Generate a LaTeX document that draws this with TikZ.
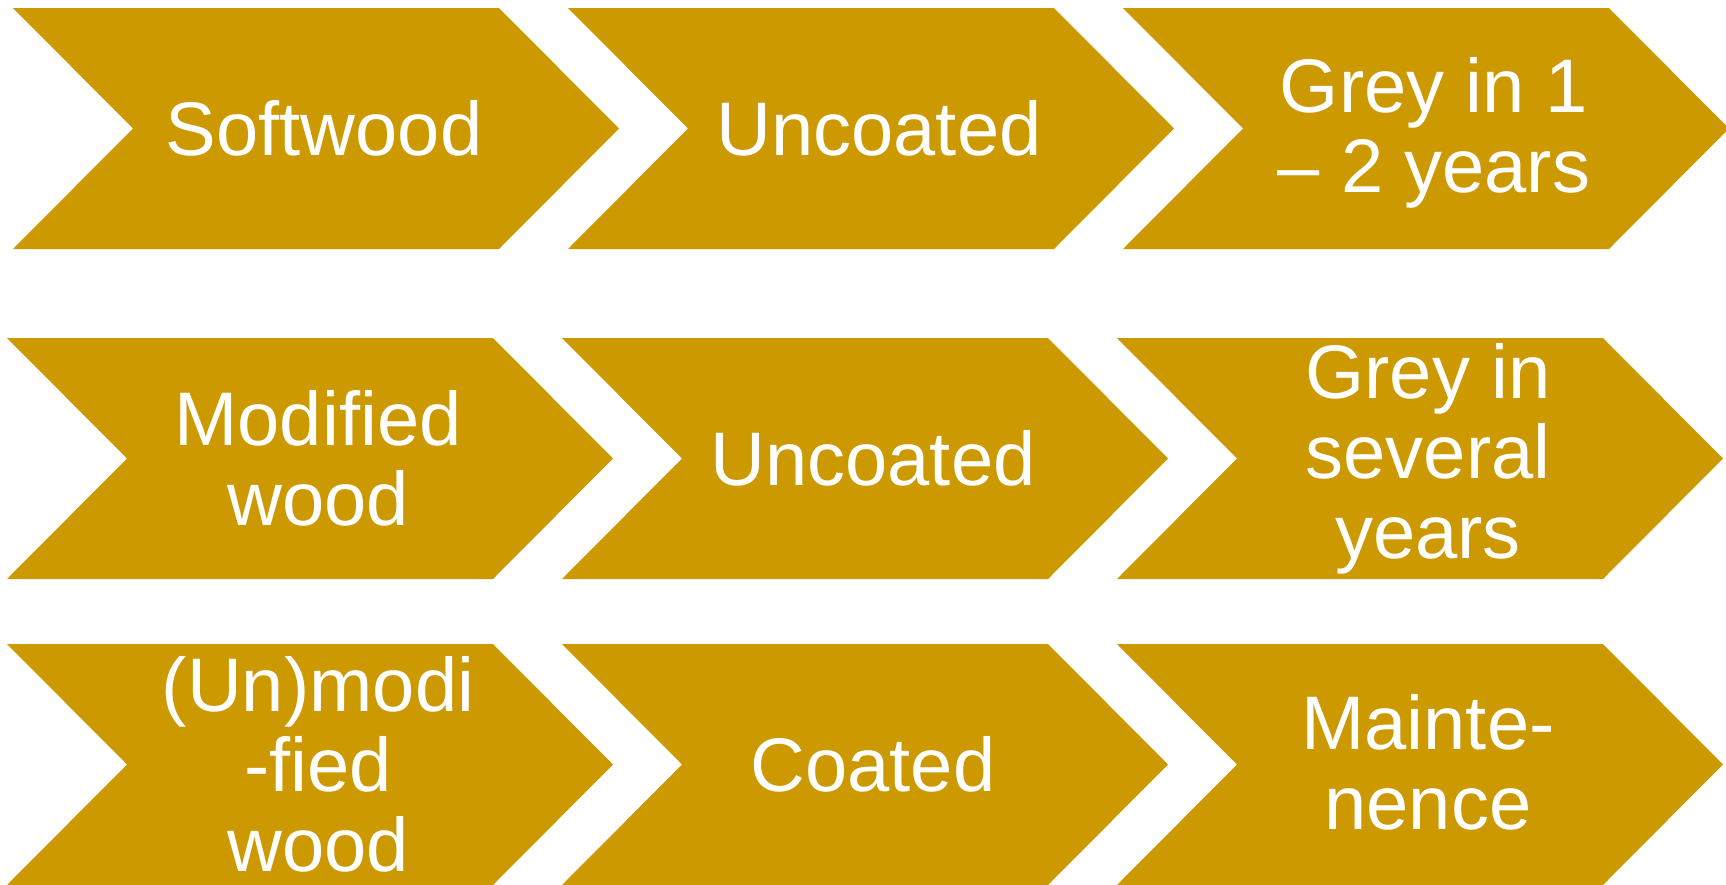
\documentclass[tikz,border=0pt]{standalone}
\usepackage{fontspec}
\setmainfont{Liberation Sans}
\definecolor{woodgold}{HTML}{CC9900}
\tikzset{
  chevron/.style={fill=woodgold},
  chevtext/.style={text=white,align=center,inner sep=0pt,
    font=\fontsize{21.6pt}{22.8pt}\selectfont}
}
\begin{document}
\begin{tikzpicture}[x=0.01cm,y=-0.01cm]
\useasboundingbox (0,0) rectangle (1726,884);
% first row
\fill[chevron] (13,8)--(499,8)--(619,128.5)--(499,249)--(13,249)--(133,128.5)--cycle;
\fill[chevron] (568,8)--(1054,8)--(1174,128.5)--(1054,249)--(568,249)--(688,128.5)--cycle;
\fill[chevron] (1123,8)--(1609,8)--(1729,128.5)--(1609,249)--(1123,249)--(1243,128.5)--cycle;
\node[chevtext] (soft) at (324,128.5) {Softwood};
\node[chevtext] (uncoatA) at (879,128.5) {Uncoated};
\node[chevtext] (greyA) at (1434,133) {Grey in 1\\– 2 years};
% second row
\fill[chevron] (7,338)--(493,338)--(613,458.5)--(493,579)--(7,579)--(127,458.5)--cycle;
\fill[chevron] (562,338)--(1048,338)--(1168,458.5)--(1048,579)--(562,579)--(682,458.5)--cycle;
\fill[chevron] (1117,338)--(1603,338)--(1723,458.5)--(1603,579)--(1117,579)--(1237,458.5)--cycle;
\node[chevtext] (modif) at (318,458.5) {Modified\\wood};
\node[chevtext] (uncoatB) at (873,458.5) {Uncoated};
\node[chevtext] (greyB) at (1428,459) {Grey in\\several\\years};
% third row
\fill[chevron] (7,644)--(493,644)--(613,764.5)--(493,885)--(7,885)--(127,764.5)--cycle;
\fill[chevron] (562,644)--(1048,644)--(1168,764.5)--(1048,885)--(562,885)--(682,764.5)--cycle;
\fill[chevron] (1117,644)--(1603,644)--(1723,764.5)--(1603,885)--(1117,885)--(1237,764.5)--cycle;
\node[chevtext] (unmod) at (318,764.5) {(Un)modi\\-fied\\wood};
\node[chevtext] (coat) at (873,764.5) {Coated};
\node[chevtext] (maint) at (1428,762) {Mainte-\\nence};
\end{tikzpicture}
\end{document}
